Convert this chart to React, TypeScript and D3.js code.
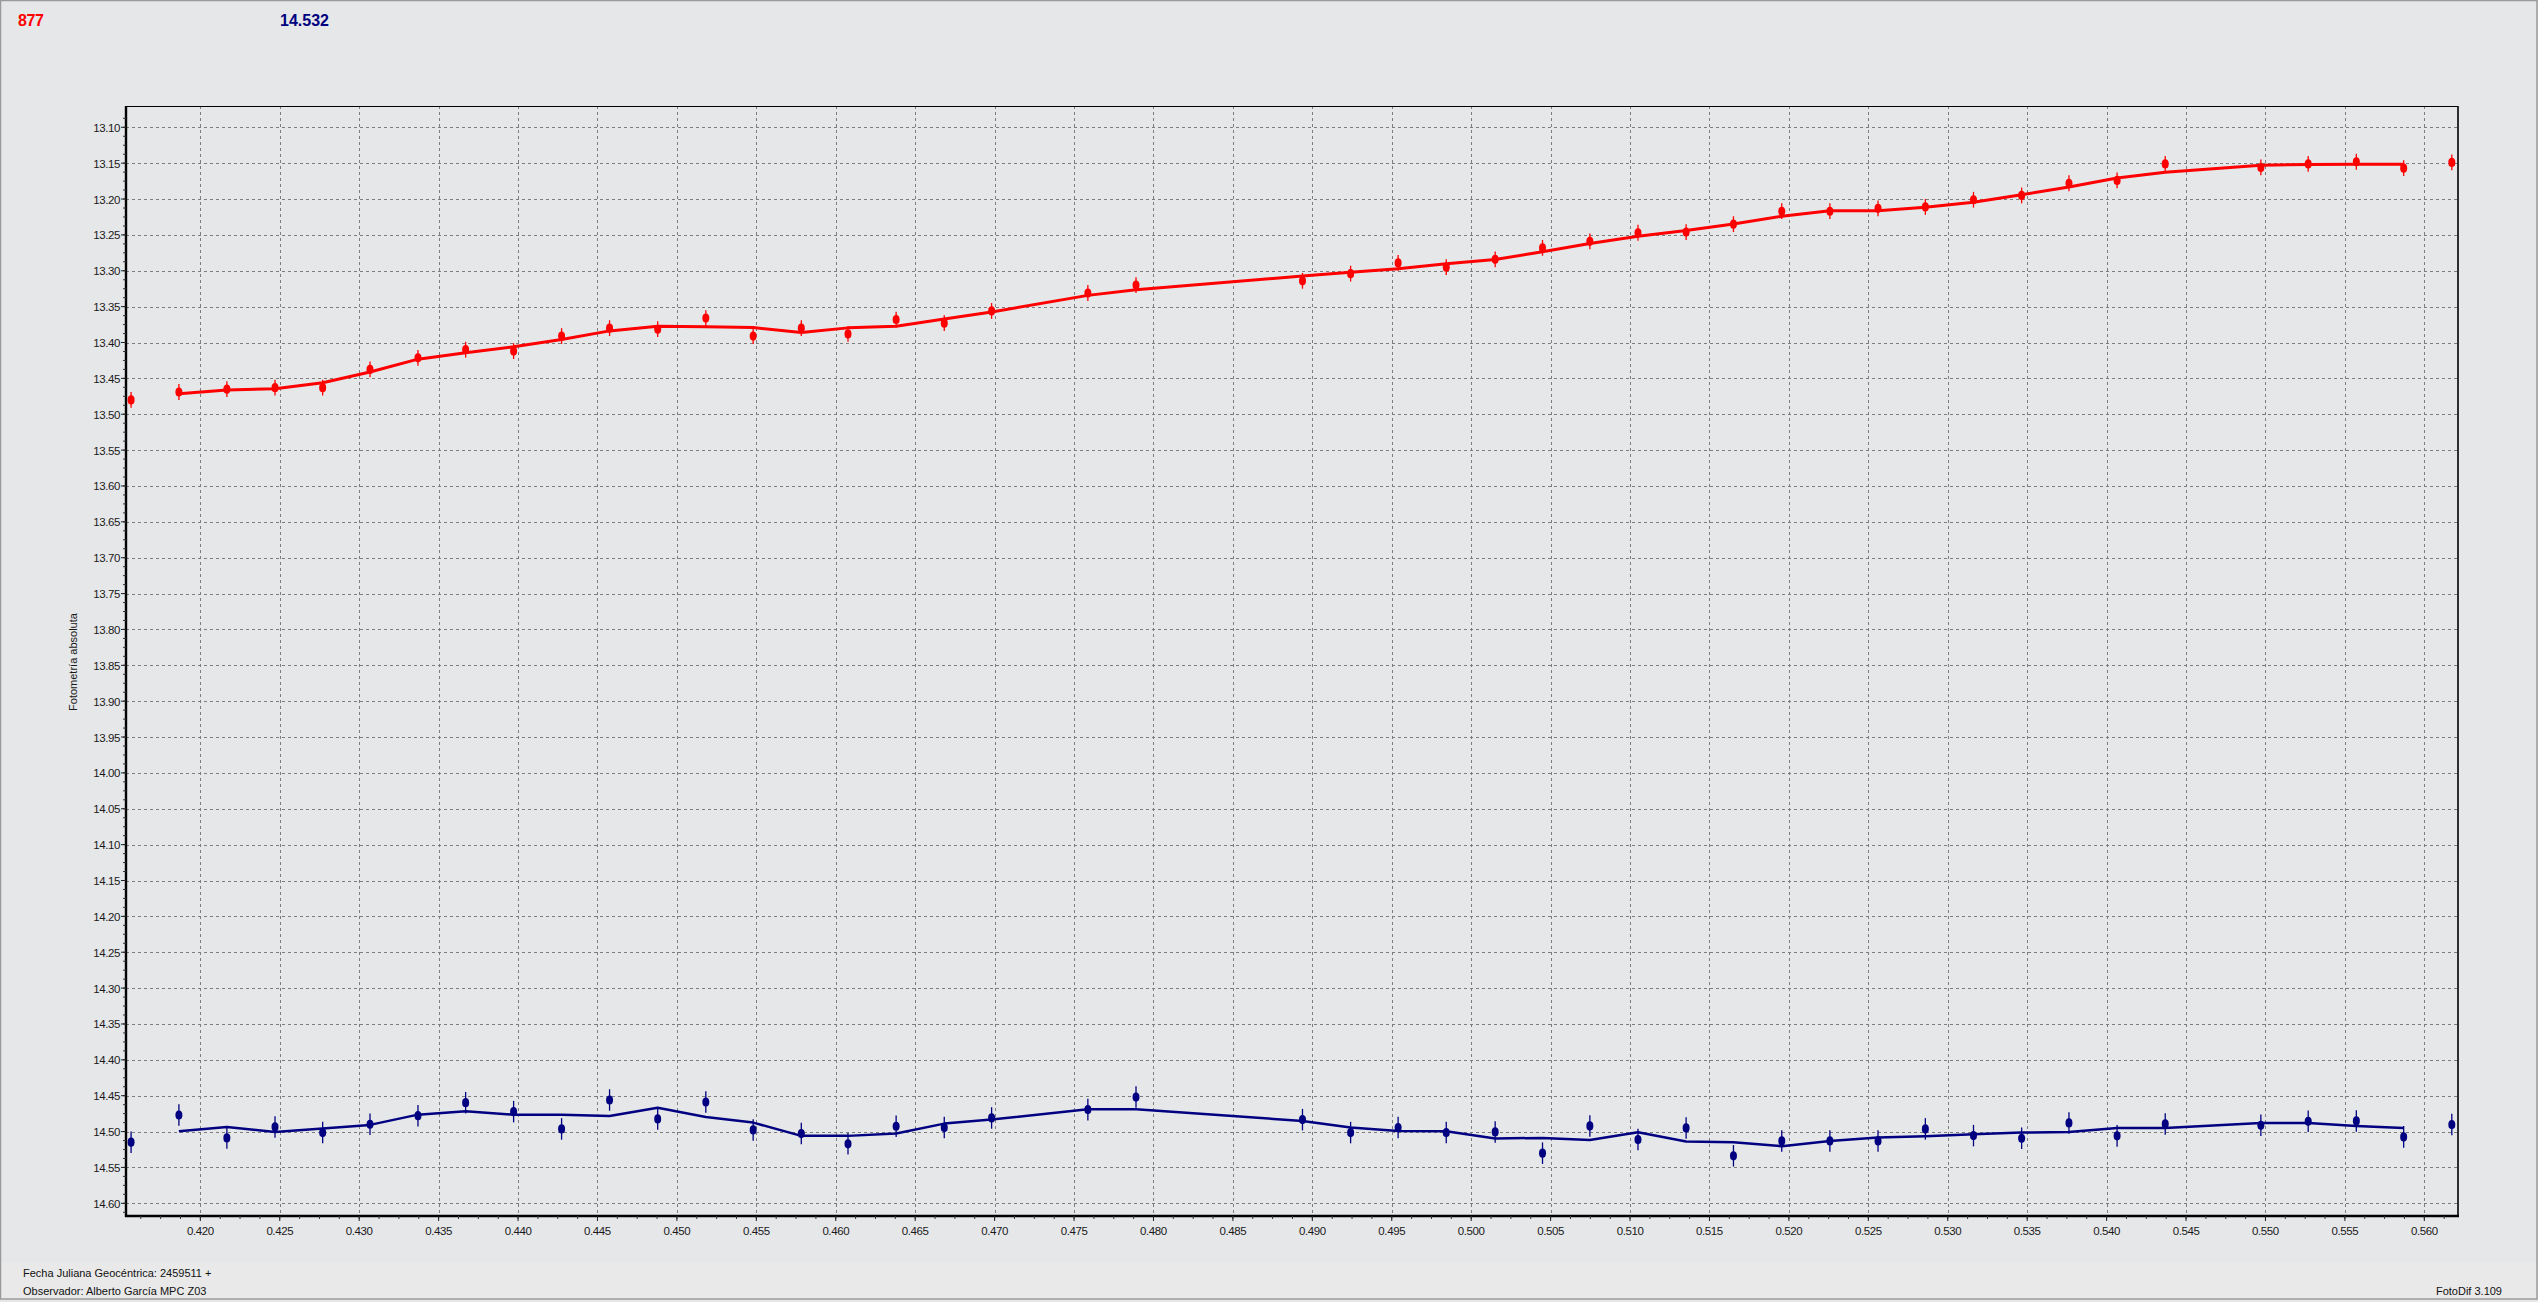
import { line, range, scaleLinear } from 'd3'

// geocentric JD fraction of each frame (both stars share them)
const times = [
  0.41564, 0.41865, 0.42167, 0.4247, 0.4277, 0.43068, 0.4337, 0.4367, 0.43972, 0.44274,
  0.44576, 0.44879, 0.45182, 0.4548, 0.45783, 0.46077, 0.4638, 0.46683, 0.46981, 0.47587,
  0.4789, 0.48938, 0.49241, 0.4954, 0.49843, 0.50151, 0.50449, 0.50747, 0.5105, 0.51353,
  0.51651, 0.51955, 0.52258, 0.52561, 0.52859, 0.53162, 0.53465, 0.53763, 0.54066, 0.54369,
  0.54971, 0.55269, 0.55572, 0.5587, 0.56173,
]

const redMag = [
  13.48, 13.469, 13.465, 13.463, 13.463, 13.4375, 13.4213, 13.41, 13.412, 13.391,
  13.38, 13.3815, 13.366, 13.391, 13.38, 13.388, 13.368, 13.373, 13.356, 13.331,
  13.32, 13.314, 13.304, 13.289, 13.295, 13.284, 13.268, 13.259, 13.247, 13.246,
  13.235, 13.217, 13.217, 13.213, 13.211, 13.201, 13.195, 13.178, 13.174, 13.151,
  13.156, 13.151, 13.148, 13.157, 13.149,
]

// smoothed curve, drawn from the 2nd to the 2nd-last frame
const redFit = [
  13.4715, 13.4662, 13.4644, 13.456, 13.4412, 13.4232, 13.4144, 13.406, 13.3958, 13.3838,
  13.3773, 13.3782, 13.3792, 13.3861, 13.3796, 13.3773, 13.3671, 13.3574, 13.3343, 13.3264,
  13.3074, 13.3019, 13.2972, 13.2903, 13.2843, 13.2736, 13.262, 13.2518, 13.244, 13.2347,
  13.2241, 13.2162, 13.2162, 13.2116, 13.2046, 13.194, 13.1833, 13.1708, 13.1625, 13.1528,
  13.1519, 13.1514, 13.1514,
]

const blueMag = [
  14.5148, 14.4769, 14.5088, 14.4935, 14.5014, 14.4898, 14.4778, 14.4597, 14.4722, 14.4963,
  14.456, 14.4824, 14.4588, 14.4977, 14.5028, 14.5171, 14.4926, 14.4944, 14.481, 14.4694,
  14.4519, 14.4833, 14.5014, 14.4944, 14.5014, 14.5005, 14.5301, 14.4921, 14.5111, 14.4949,
  14.5338, 14.513, 14.513, 14.513, 14.4963, 14.5056, 14.5093, 14.488, 14.506, 14.4894,
  14.4912, 14.4856, 14.4852, 14.5074, 14.4903,
]

const blueFit = [
  14.4995, 14.4935, 14.5005, 14.4958, 14.4907, 14.4764, 14.4718, 14.4764, 14.4764, 14.4782,
  14.4667, 14.4796, 14.4875, 14.506, 14.506, 14.5028, 14.4889, 14.4833, 14.469, 14.469,
  14.4852, 14.4944, 14.4991, 14.4995, 14.5097, 14.5088, 14.5116, 14.5009, 14.5139, 14.5148,
  14.5204, 14.513, 14.5083, 14.5065, 14.5037, 14.5014, 14.5005, 14.4949, 14.4949, 14.488,
  14.488, 14.4921, 14.4949,
]

const redErr = 0.011
const blueErr = 0.015

const yTicks = range(0, 31).map((i) => +(13.1 + i * 0.05).toFixed(2))
const yMinor = range(0, 125).map((i) => +(13.0875 + i * 0.0125).toFixed(4))
const xTicks = range(0, 29).map((i) => +(0.42 + i * 0.005).toFixed(3))
const xMinor = range(0, 118).map((i) => +(0.41625 + i * 0.00125).toFixed(5))

const W = 2538
const H = 1302
const left = 126
const right = 2458
const top = 106
const bottom = 1216
const bg = '#e6e7e9'
const grid = '#7d7d7d'
const tickFont = '"Liberation Sans", Arial, sans-serif'

function Series({ mags, fit, err, color, lineWidth, x, y }: any) {
  const fitTimes = times.slice(1, 1 + fit.length)
  const path = line<number>()
    .x((_, i) => x(fitTimes[i]))
    .y((d) => y(d))(fit)
  return (
    <g>
      <path d={path ?? ''} fill="none" stroke={color} strokeWidth={lineWidth} strokeLinejoin="round" />
      {mags.map((m: number, i: number) => (
        <g key={i}>
          <line x1={x(times[i])} x2={x(times[i])} y1={y(m - err)} y2={y(m + err)} stroke={color} strokeWidth="1.3" />
          <ellipse cx={x(times[i])} cy={y(m)} rx="3.5" ry="4.6" fill={color} />
        </g>
      ))}
    </g>
  )
}

export default function App() {
  const x = scaleLinear().domain([0.41532, 0.56212]).range([left, right])
  const y = scaleLinear().domain([13.0703, 14.6177]).range([top, bottom])

  return (
    <>
      <style>{'body{margin:0;overflow:hidden}'}</style>
      <svg width={W} height={H} viewBox={`0 0 ${W} ${H}`} style={{ display: 'block' }}>
        <rect width={W} height={H} fill={bg} />
        <rect x="0" y="1262" width={W} height={37} fill="#e9e9e9" />
        <rect x="0.5" y="0.5" width={W - 1.5} height={1298.5} fill="none" stroke="#9a9a9a" strokeWidth="1.5" />

        <text x="18" y="26" fill="#ff0000" fontSize="16" fontWeight="bold" fontFamily={tickFont} letterSpacing="-0.4">877</text>
        <text x="280" y="26" fill="#000080" fontSize="16" fontWeight="bold" fontFamily={tickFont}>14.532</text>

        {/* grid */}
        {yTicks.map((t) => (
          <line key={'gy' + t} x1={left} x2={right} y1={Math.round(y(t)) + 0.5} y2={Math.round(y(t)) + 0.5} stroke={grid} strokeDasharray="3 3" />
        ))}
        {xTicks.map((t) => (
          <line key={'gx' + t} x1={Math.round(x(t)) + 0.5} x2={Math.round(x(t)) + 0.5} y1={top} y2={bottom} stroke={grid} strokeDasharray="3 3" />
        ))}

        {/* frame and axes */}
        <line x1={left} x2={right} y1={top + 0.5} y2={top + 0.5} stroke="#000" strokeWidth="1.2" />
        <line x1={right} x2={right} y1={top} y2={bottom} stroke="#000" strokeWidth="1.6" />
        <line x1={left} x2={left} y1={top} y2={bottom + 1} stroke="#000" strokeWidth="2.4" />
        <line x1={left - 1} x2={right + 1} y1={bottom} y2={bottom} stroke="#000" strokeWidth="2.4" />

        {yMinor.filter((t) => y(t) > top && y(t) < bottom).map((t) => (
          <line key={'my' + t} x1={left - 3} x2={left} y1={y(t)} y2={y(t)} stroke="#333" strokeWidth="1" />
        ))}
        {xMinor.filter((t) => x(t) > left && x(t) < right).map((t) => (
          <line key={'mx' + t} x1={x(t)} x2={x(t)} y1={bottom} y2={bottom + 3} stroke="#333" strokeWidth="1" />
        ))}
        {yTicks.map((t) => (
          <g key={'ty' + t}>
            <line x1={left - 5} x2={left} y1={y(t)} y2={y(t)} stroke="#222" strokeWidth="1" />
            <text x={left - 6} y={y(t) + 4.5} textAnchor="end" fontSize="11.5" letterSpacing="-0.4" fill="#1a1a1a" fontFamily={tickFont}>
              {t.toFixed(2)}
            </text>
          </g>
        ))}
        {xTicks.map((t) => (
          <g key={'tx' + t}>
            <line x1={x(t)} x2={x(t)} y1={bottom} y2={bottom + 5} stroke="#222" strokeWidth="1" />
            <text x={x(t)} y="1234.5" textAnchor="middle" fontSize="11.5" letterSpacing="-0.4" fill="#1a1a1a" fontFamily={tickFont}>
              {t.toFixed(3)}
            </text>
          </g>
        ))}

        <text transform="translate(77,662) rotate(-90)" textAnchor="middle" fontSize="11" fill="#1a1a1a" fontFamily={tickFont}>
          Fotometría absoluta
        </text>

        <Series mags={redMag} fit={redFit} err={redErr} color="#ff0000" lineWidth={3} x={x} y={y} />
        <Series mags={blueMag} fit={blueFit} err={blueErr} color="#000080" lineWidth={2.5} x={x} y={y} />

        <text x="23" y="1277" fontSize="11" fill="#111" fontFamily={tickFont}>Fecha Juliana Geocéntrica: 2459511 +</text>
        <text x="23" y="1295" fontSize="11" fill="#111" fontFamily={tickFont}>Observador: Alberto García MPC Z03</text>
        <text x="2502" y="1295" textAnchor="end" fontSize="11" fill="#111" fontFamily={tickFont}>FotoDif 3.109</text>
      </svg>
    </>
  )
}
